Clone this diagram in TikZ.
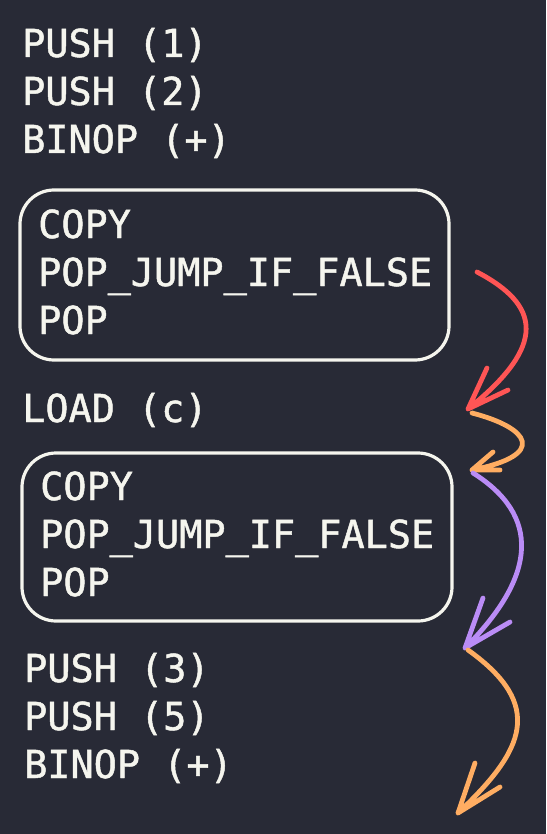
\documentclass[tikz,border=0pt]{standalone}
\usepackage{fontspec}
\newfontfamily\codefont[FakeBold=1.2]{DejaVu Sans Mono}

\definecolor{bg}{HTML}{282A36}
\definecolor{fg}{HTML}{F5F5EE}
\definecolor{jumpred}{HTML}{FF5555}
\definecolor{jumporange}{HTML}{FFAD62}
\definecolor{jumppurple}{HTML}{BA8CF6}

\tikzset{
  code/.style={font={\codefont\fontsize{38.5}{48}\selectfont}, text=fg, anchor=base west, inner sep=0pt},
  block/.style={draw=fg, line width=3.2pt, rounded corners=34pt},
  jump/.style={line width=4.8pt, line cap=round, line join=round}
}

\begin{document}
\begin{tikzpicture}[x=1pt, y=-1pt]
% BACKGROUND
	\fill [bg] (0,0) rectangle (546,834);
	\useasboundingbox (0,0) rectangle (546,834);

% INSTRUCTIONS
	\foreach \op [count=\i] in {PUSH (1), PUSH (2), BINOP (+)}
		\node [code] (head\i) at (22,57+48*\i-48) {\op};
	\foreach \op [count=\i] in {COPY, POP\_JUMP\_IF\_FALSE, POP}
		\node [code] (testA\i) at (38,238+48*\i-48) {\op};
	\node [code] (load) at (22,422) {LOAD (c)};
	\foreach \op [count=\i] in {COPY, POP\_JUMP\_IF\_FALSE, POP}
		\node [code] (testB\i) at (40,500+48*\i-48) {\op};
	\foreach \op [count=\i] in {PUSH (3), PUSH (5), BINOP (+)}
		\node [code] (tail\i) at (24,682+48*\i-48) {\op};

% BOXES
	\draw [block] (20,190) rectangle (449,360);
	\draw [block] (22,453) rectangle (452,621);

% JUMPS
	\coordinate (jA) at (477,272);
	\coordinate (jB) at (468,409);
	\coordinate (jC) at (472,413);
	\coordinate (jD) at (472,470);
	\coordinate (jE) at (473,473);
	\coordinate (jF) at (465,648);
	\coordinate (jG) at (468,650);
	\coordinate (jH) at (458,813);

	\draw [jump, jumpred]
	(jA) .. controls (540,305) and (548,345) .. (jB)
	-- (487,368) (jB) -- (508,390);
	\draw [jump, jumporange]
	(jC) .. controls (530,428) and (548,455) .. (jD)
	-- (493,452) (jD) -- (500,470);
	\draw [jump, jumppurple]
	(jE) .. controls (540,515) and (538,575) .. (jF)
	-- (483,598) (jF) -- (510,622);
	\draw [jump, jumporange]
	(jG) .. controls (545,705) and (525,750) .. (jH)
	-- (475,763) (jH) -- (500,787);

\end{tikzpicture}
\end{document}
